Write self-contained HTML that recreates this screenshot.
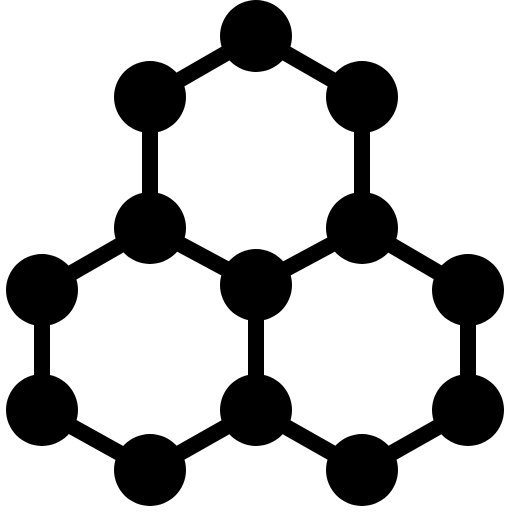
<!DOCTYPE html>
<html><head><meta charset="utf-8"><style>html,body{margin:0;padding:0;background:#fff}svg{display:block}</style></head>
<body>
<svg width="512" height="512" viewBox="0 0 512 512">
<g stroke="#000" stroke-width="16">
<line x1="256" y1="36" x2="150" y2="97"/>
<line x1="256" y1="36" x2="362" y2="97"/>
<line x1="150" y1="97" x2="150" y2="228"/>
<line x1="362" y1="97" x2="362" y2="228"/>
<line x1="150" y1="228" x2="256" y2="285"/>
<line x1="362" y1="228" x2="256" y2="285"/>
<line x1="150" y1="228" x2="42" y2="290"/>
<line x1="42" y1="290" x2="42" y2="410"/>
<line x1="42" y1="410" x2="150" y2="470"/>
<line x1="150" y1="470" x2="256" y2="410"/>
<line x1="256" y1="410" x2="256" y2="285"/>
<line x1="362" y1="228" x2="468" y2="290"/>
<line x1="468" y1="290" x2="468" y2="410"/>
<line x1="468" y1="410" x2="362" y2="470"/>
<line x1="362" y1="470" x2="256" y2="410"/>
</g>
<g fill="#000">
<circle cx="256" cy="36" r="36"/>
<circle cx="150" cy="97" r="36"/>
<circle cx="362" cy="97" r="36"/>
<circle cx="150" cy="228" r="36"/>
<circle cx="362" cy="228" r="36"/>
<circle cx="256" cy="285" r="36"/>
<circle cx="42" cy="290" r="36"/>
<circle cx="468" cy="290" r="36"/>
<circle cx="42" cy="410" r="36"/>
<circle cx="468" cy="410" r="36"/>
<circle cx="256" cy="410" r="36"/>
<circle cx="150" cy="470" r="36"/>
<circle cx="362" cy="470" r="36"/>
</g>
</svg>
</body></html>
